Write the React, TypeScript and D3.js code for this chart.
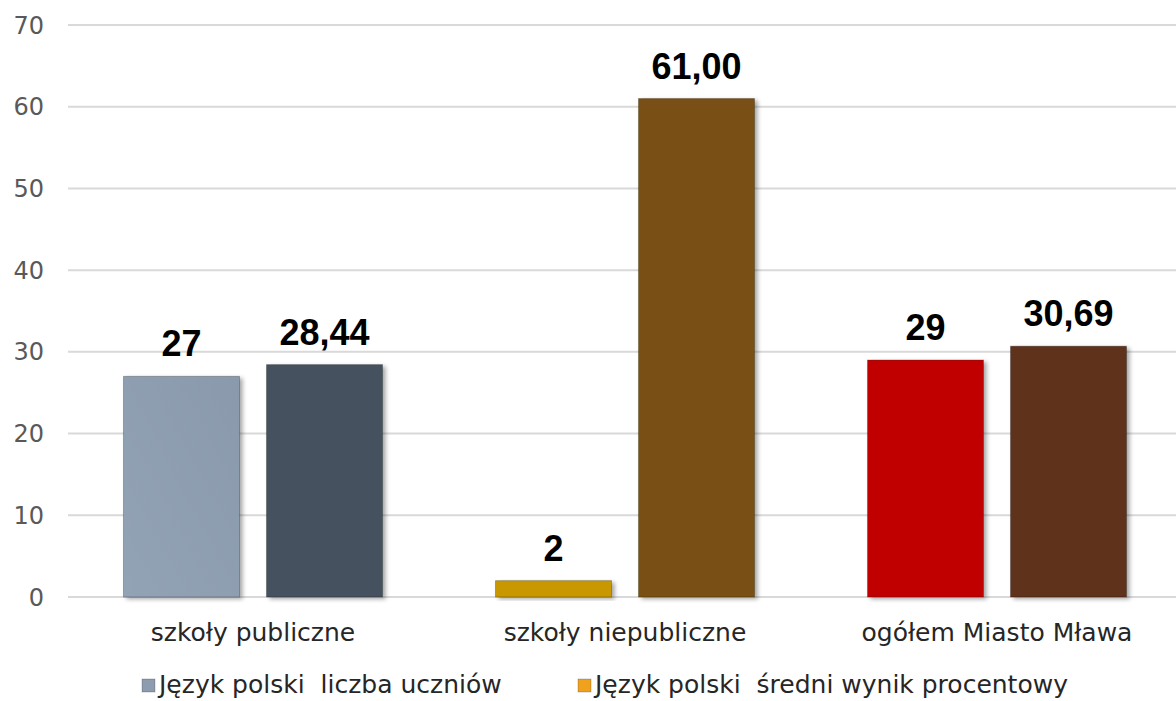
import React from "react";
import * as d3 from "d3";

const categories = ["szkoły publiczne", "szkoły niepubliczne", "ogółem Miasto Mława"];
const seriesNames = ["Język polski  liczba uczniów", "Język polski  średni wynik procentowy"];
const countValues = [27, 2, 29];
const scoreValues = [28.44, 61.0, 30.69];
const countColors = ["#8D9CAF", "#C99700", "#C00000"];
const scoreColors = ["#45515F", "#7A5012", "#5F331D"];
const legendColors = ["#8D9CAF", "#F0A21E"];
const yTicks = [0, 10, 20, 30, 40, 50, 60, 70];

const W = 1176;
const H = 701;
const margin = { left: 67, right: -7, top: 25, bottom: 104 };

export default function App() {
  const x0 = d3
    .scaleBand<string>()
    .domain(categories)
    .range([margin.left, W - margin.right])
    .paddingInner(0)
    .paddingOuter(0);
  const y = d3.scaleLinear().domain([0, 70]).range([H - margin.bottom, margin.top]);
  const barW = 116;
  const gap = 27;
  const font = "'DejaVu Sans', sans-serif";
  const boldFont = "'Liberation Sans', Arial, sans-serif";

  const bars: { x: number; v: number; c: string; label: string; key: string }[] = [];
  categories.forEach((cat, i) => {
    const cx = (x0(cat) ?? 0) + x0.bandwidth() / 2;
    bars.push({ key: `a${i}`, x: cx - gap / 2 - barW, v: countValues[i], c: countColors[i], label: d3.format("d")(countValues[i]) });
    bars.push({ key: `b${i}`, x: cx + gap / 2, v: scoreValues[i], c: scoreColors[i], label: scoreValues[i].toFixed(2).replace(".", ",") });
  });

  return (
    <div style={{ position: "absolute", left: 0, top: 0 }}>
      <svg width={W} height={H} style={{ display: "block", background: "#fff" }}>
        <defs>
          <filter id="sh" x="-10%" y="-10%" width="130%" height="130%">
            <feDropShadow dx="3" dy="2" stdDeviation="2" floodColor="#000" floodOpacity="0.35" />
          </filter>
          <linearGradient id="g0" x1="0" y1="1" x2="1" y2="0">
            <stop offset="0" stopColor="#93A3B6" />
            <stop offset="1" stopColor="#8A99AC" />
          </linearGradient>
        </defs>
        {yTicks.map((t) => (
          <g key={t}>
            <line x1={68} x2={W} y1={y(t)} y2={y(t)} stroke="#D9D9D9" strokeWidth={2} />
            <text x={44} y={y(t)} dy="0.36em" textAnchor="end" fontFamily={font} fontSize={24} fill="#595959">
              {t}
            </text>
          </g>
        ))}
        {bars.map((b, i) => (
          <g key={b.key}>
            <rect
              x={b.x}
              y={y(b.v)}
              width={barW}
              height={y(0) - y(b.v)}
              fill={i === 0 ? "url(#g0)" : b.c}
              stroke="rgba(0,0,0,0.25)"
              strokeWidth={1}
              filter="url(#sh)"
            />
            <text
              x={b.x + barW / 2}
              y={y(b.v) - 20}
              textAnchor="middle"
              fontFamily={boldFont}
              fontWeight={700}
              fontSize={36}
              fill="#000"
            >
              {b.label}
            </text>
          </g>
        ))}
        {categories.map((c) => (
          <text
            key={c}
            x={(x0(c) ?? 0) + x0.bandwidth() / 2}
            y={641}
            textAnchor="middle"
            fontFamily={font}
            fontSize={25}
            fill="#262626"
          >
            {c}
          </text>
        ))}
        {seriesNames.map((s, i) => {
          const lx = i === 0 ? 142 : 578;
          return (
            <g key={s}>
              <rect x={lx} y={679} width={13} height={13} fill={legendColors[i]} stroke="rgba(0,0,0,0.2)" />
              <text x={lx + 17} y={693} fontFamily={font} fontSize={25} fill="#262626" style={{ whiteSpace: "pre" }}>
                {s}
              </text>
            </g>
          );
        })}
      </svg>
    </div>
  );
}
